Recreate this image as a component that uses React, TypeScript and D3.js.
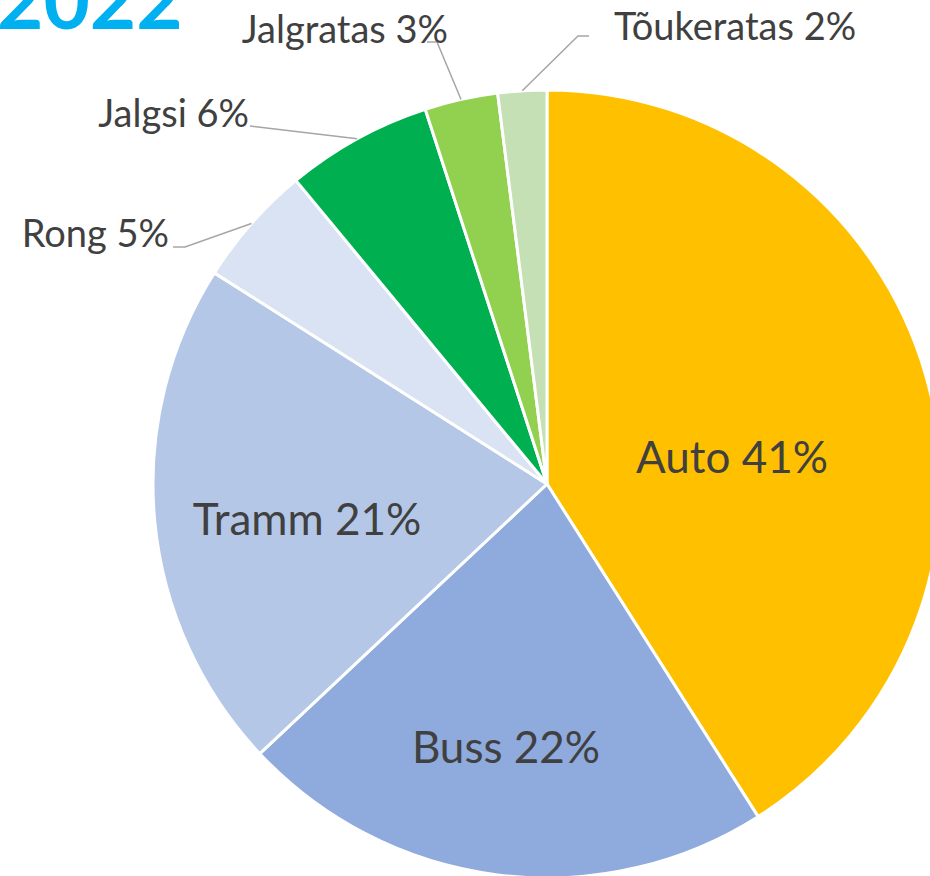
import React from "react";
import * as d3 from "d3";

// shares of trips by mode, 2022
const categories = ["Auto", "Buss", "Tramm", "Rong", "Jalgsi", "Jalgratas", "Tõukeratas"];
const shares = [41, 22, 21, 5, 6, 3, 2];
const colors = ["#FFC000", "#8FAADC", "#B4C7E7", "#DAE3F3", "#00B050", "#92D050", "#C5E0B4"];
const title = "2022";

const W = 930;
const H = 876;
const cx = 547;
const cy = 484;
const R = 394;

// label placement: inner labels at fixed spots, outer labels via elbow
const innerLabel: Record<string, [number, number]> = {
  Auto: [732, 473],
  Buss: [506, 763],
  Tramm: [307, 535],
};
const outerLabel: Record<string, { elbow: [number, number]; end: [number, number]; tx: number; ty: number; anchor: string }> = {
  Rong: { elbow: [185, 247], end: [173, 247], tx: 169, ty: 247, anchor: "end" },
  Jalgsi: { elbow: [258, 127], end: [250, 126], tx: 249, ty: 127, anchor: "end" },
  Jalgratas: { elbow: [437, 42], end: [427, 42], tx: 448, ty: 43, anchor: "end" },
  Tõukeratas: { elbow: [578, 36], end: [589, 36], tx: 614, ty: 40, anchor: "start" },
};

const App = () => {
  const data = categories.map((c, i) => ({ name: c, value: shares[i], color: colors[i] }));
  const pie = d3.pie<any>().value(d => d.value).sort(null);
  const arcs = pie(data);
  const arc = d3.arc<any>().innerRadius(0).outerRadius(R);

  const edgePoint = (d: any) => {
    const a = (d.startAngle + d.endAngle) / 2;
    return [cx + R * Math.sin(a), cy - R * Math.cos(a)];
  };

  return (
    <svg width={W} height={H} style={{ position: "absolute", left: 0, top: 0 }}
      fontFamily="Lato, 'Open Sans', sans-serif">
      <rect width={W} height={H} fill="#fff" />
      <g transform={`translate(${cx},${cy})`}>
        {arcs.map(d => (
          <path key={d.data.name} d={arc(d) as string} fill={d.data.color}
            stroke="#fff" strokeWidth={3} strokeLinejoin="round" />
        ))}
      </g>
      {arcs.map(d => {
        const lab = `${d.data.name} ${d.data.value}%`;
        const inner = innerLabel[d.data.name];
        if (inner) {
          return (
            <text key={lab} x={inner[0]} y={inner[1]} textAnchor="middle"
              fontSize={44} fill="#404040">{lab}</text>
          );
        }
        const o = outerLabel[d.data.name];
        const p = edgePoint(d);
        return (
          <g key={lab}>
            <polyline points={`${p[0]},${p[1]} ${o.elbow[0]},${o.elbow[1]} ${o.end[0]},${o.end[1]}`}
              fill="none" stroke="#A6A6A6" strokeWidth={1.5} />
            <text x={o.tx} y={o.ty} textAnchor={o.anchor as any} fontSize={38} fill="#404040">{lab}</text>
          </g>
        );
      })}
      <text x={-3} y={29} fontSize={80} fontWeight="bold" fill="#00B0F0">{title}</text>
    </svg>
  );
};

export default App;
